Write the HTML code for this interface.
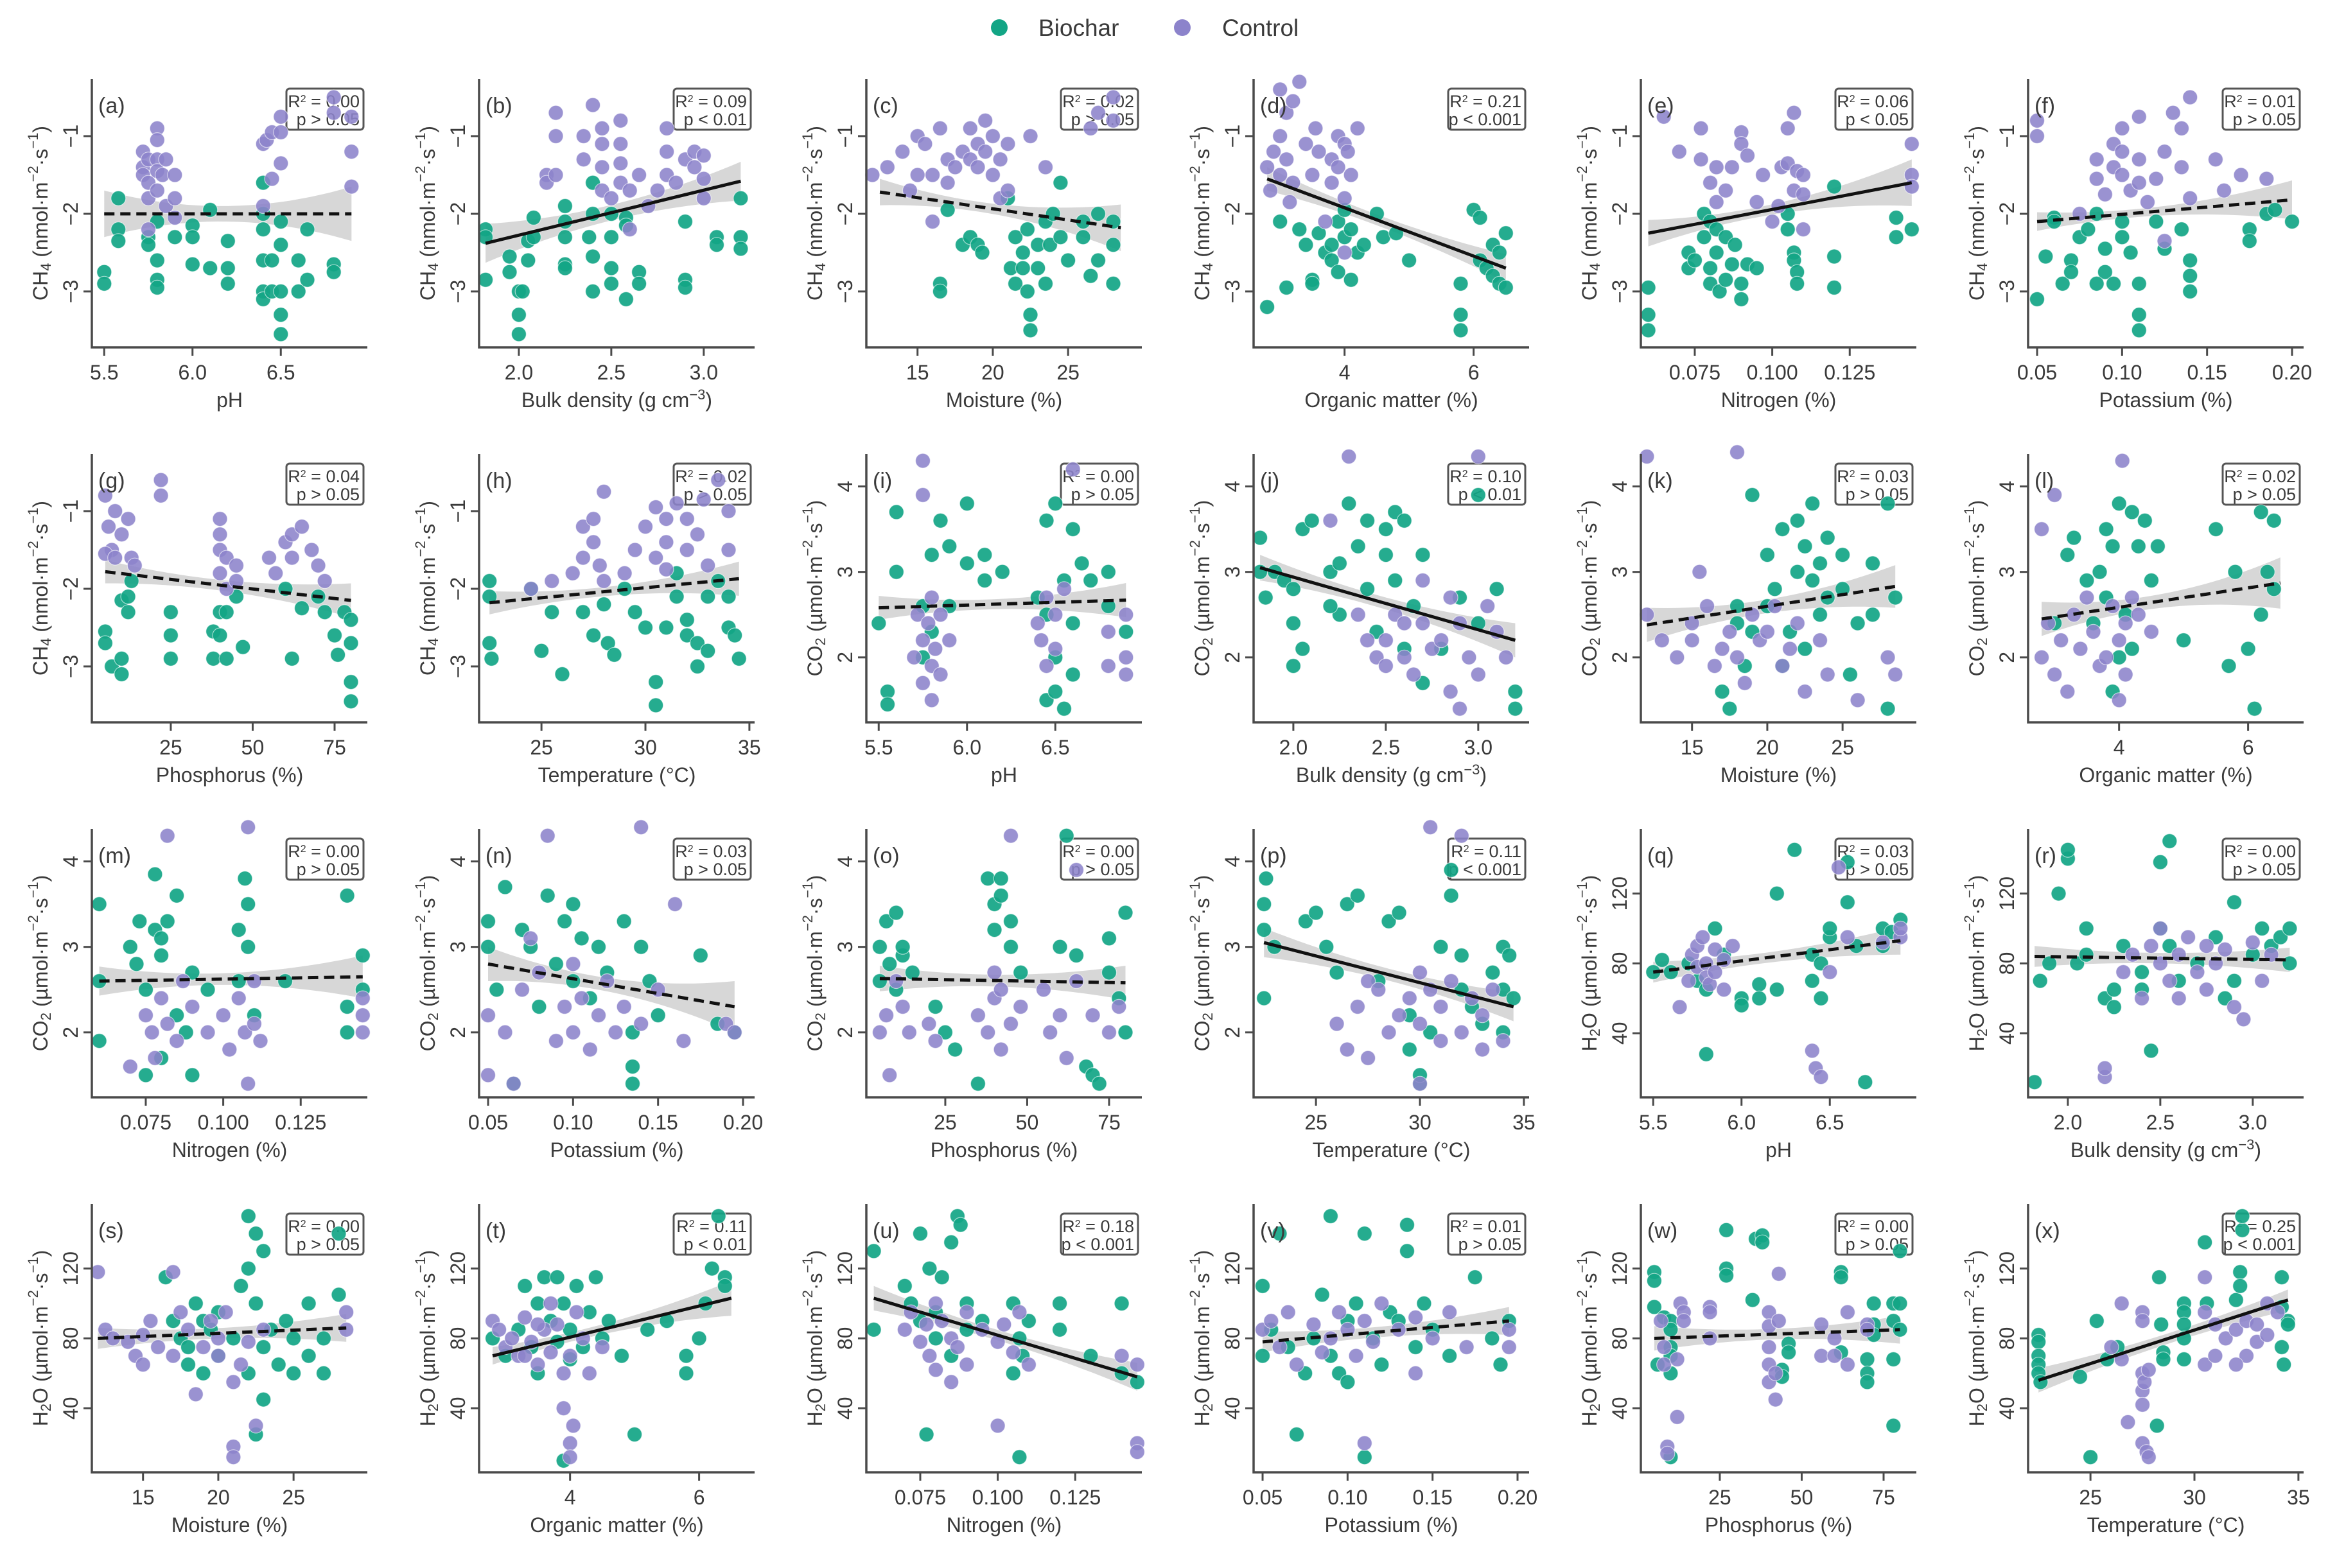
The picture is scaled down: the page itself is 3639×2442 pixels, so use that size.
<!DOCTYPE html>
<html><head><meta charset="utf-8"><style>
html,body{margin:0;padding:0;background:#fff}
svg{display:block}
text{font-family:"Liberation Sans Narrow","Liberation Sans",sans-serif;fill:#3a3a3a}
</style></head><body>
<svg id="fig" width="3639" height="2442" viewBox="0 0 3639 2442" xmlns="http://www.w3.org/2000/svg"></svg>
<script>
// ---------- data ----------
const bioA=[[5.5,-2.75],[5.5,-2.9],[5.58,-2.2],[5.58,-2.35],[5.58,-1.8],[5.75,-2.3],[5.75,-2.4],[5.8,-2.1],[5.8,-2.6],[5.8,-2.85],[5.8,-2.95],[5.9,-2.3],[6.0,-2.15],[6.0,-2.3],[6.0,-2.65],[6.1,-1.95],[6.1,-2.7],[6.2,-2.35],[6.2,-2.7],[6.2,-2.9],[6.4,-1.6],[6.4,-2.0],[6.4,-2.2],[6.4,-2.6],[6.4,-3.0],[6.4,-3.1],[6.45,-2.6],[6.45,-3.0],[6.5,-2.1],[6.5,-2.4],[6.5,-3.0],[6.5,-3.3],[6.5,-3.55],[6.6,-2.6],[6.6,-3.0],[6.65,-2.2],[6.65,-2.85],[6.8,-2.65],[6.8,-2.75]];
const ctlA=[[5.72,-1.2],[5.72,-1.4],[5.72,-1.5],[5.75,-1.3],[5.75,-1.6],[5.75,-1.8],[5.75,-2.2],[5.8,-0.9],[5.8,-1.05],[5.8,-1.3],[5.8,-1.45],[5.8,-1.7],[5.83,-1.5],[5.85,-1.3],[5.85,-1.9],[5.9,-1.5],[5.9,-1.8],[5.9,-2.05],[6.4,-1.1],[6.42,-1.05],[6.45,-0.95],[6.5,-0.75],[6.5,-0.95],[6.45,-1.55],[6.5,-1.35],[6.4,-1.9],[6.8,-0.5],[6.8,-0.7],[6.9,-1.2],[6.9,-1.65],[6.9,-0.75]];
const fitA=[[5.5,-2.0],[6.9,-2.0]]; const bandA=[0.3,0.1,0.35];

const bioB=[[1.82,-2.2],[1.82,-2.3],[1.82,-2.85],[1.95,-2.55],[1.95,-2.75],[2.0,-3.0],[2.0,-3.3],[2.0,-3.55],[2.02,-3.0],[2.05,-2.35],[2.05,-2.6],[2.08,-2.05],[2.08,-2.3],[2.25,-1.9],[2.25,-2.1],[2.25,-2.3],[2.25,-2.65],[2.25,-2.7],[2.38,-2.3],[2.4,-1.6],[2.4,-2.0],[2.4,-2.55],[2.4,-3.0],[2.5,-2.0],[2.5,-2.3],[2.5,-2.7],[2.5,-2.9],[2.58,-2.05],[2.58,-2.15],[2.58,-3.1],[2.65,-2.75],[2.65,-2.9],[2.9,-2.1],[2.9,-2.85],[2.9,-2.95],[3.07,-2.3],[3.07,-2.4],[3.2,-1.8],[3.2,-2.3],[3.2,-2.45]];
const ctlB=[[2.15,-1.5],[2.15,-1.6],[2.2,-1.5],[2.2,-1.0],[2.2,-0.7],[2.35,-1.0],[2.35,-1.3],[2.4,-0.6],[2.45,-0.9],[2.45,-1.1],[2.45,-1.4],[2.45,-1.7],[2.5,-1.8],[2.55,-0.8],[2.55,-1.1],[2.55,-1.35],[2.55,-1.6],[2.6,-1.7],[2.6,-2.2],[2.65,-1.5],[2.7,-1.9],[2.75,-1.7],[2.8,-1.2],[2.8,-1.5],[2.8,-0.9],[2.85,-1.6],[2.9,-1.3],[2.95,-1.2],[2.95,-1.4],[3.0,-1.25],[3.0,-1.55],[3.0,-1.8]];
const fitB=[[1.82,-2.38],[3.2,-1.58]]; const bandB=[0.25,0.1,0.25];

const bioC=[[17,-1.95],[18,-2.4],[18.5,-2.3],[19,-2.4],[19.3,-2.5],[21,-1.8],[21.2,-2.7],[21.5,-2.3],[21.5,-2.9],[22,-2.5],[22,-2.7],[22.3,-2.2],[22.3,-3.0],[22.5,-3.3],[22.5,-3.5],[23,-2.4],[23,-2.7],[23.5,-2.1],[23.5,-2.9],[23.8,-2.4],[24,-2.0],[24.5,-1.6],[24.5,-2.3],[25,-2.6],[26,-2.1],[26,-2.3],[26.5,-2.8],[27,-2.0],[27,-2.6],[28,-2.1],[28,-2.4],[28,-2.9],[16.5,-2.9],[16.5,-3.0]];
const ctlC=[[12,-1.5],[13,-1.4],[14,-1.2],[14.5,-1.7],[15,-1.0],[15,-1.5],[15.5,-1.1],[16,-1.5],[16.5,-0.9],[17,-1.3],[17,-1.6],[17.5,-1.4],[18,-1.2],[18.5,-0.9],[18.5,-1.3],[19,-1.1],[19,-1.4],[19.5,-0.8],[19.5,-1.2],[20,-1.0],[20,-1.5],[20.5,-1.3],[20.5,-1.8],[21,-1.1],[21,-1.7],[22.5,-1.0],[23.5,-1.4],[26.5,-0.9],[27,-0.7],[28,-0.5],[28,-0.8],[16,-2.1]];
const fitC=[[12.5,-1.72],[28.5,-2.18]]; const bandC=[0.17,0.07,0.3];

const bioD=[[2.8,-3.2],[3.0,-2.1],[3.1,-2.95],[3.3,-2.2],[3.4,-2.4],[3.5,-2.85],[3.5,-2.9],[3.6,-2.25],[3.7,-2.5],[3.8,-2.4],[3.8,-2.6],[3.9,-2.1],[3.9,-2.75],[4.0,-1.95],[4.0,-2.3],[4.1,-2.2],[4.1,-2.85],[4.2,-2.5],[4.3,-2.4],[4.5,-2.0],[4.6,-2.3],[4.8,-2.25],[5.0,-2.6],[5.8,-2.9],[5.8,-3.3],[5.8,-3.5],[6.0,-1.95],[6.1,-2.05],[6.1,-2.6],[6.2,-2.7],[6.3,-2.4],[6.3,-2.8],[6.4,-2.5],[6.4,-2.9],[6.5,-2.25],[6.5,-2.95]];
const ctlD=[[2.8,-1.4],[2.85,-1.7],[2.9,-1.2],[3.0,-0.4],[3.0,-1.0],[3.0,-1.5],[3.1,-0.7],[3.1,-1.3],[3.15,-1.85],[3.2,-0.55],[3.2,-1.6],[3.3,-0.3],[3.4,-1.1],[3.5,-1.5],[3.55,-0.9],[3.6,-1.2],[3.8,-1.3],[3.8,-1.6],[3.9,-1.0],[3.9,-1.4],[4.0,-1.1],[4.0,-1.8],[4.05,-1.2],[4.1,-1.5],[3.7,-2.1],[4.0,-2.5],[4.2,-0.9]];
const fitD=[[2.8,-1.55],[6.5,-2.7]]; const bandD=[0.15,0.07,0.18];

const bioE=[[0.06,-2.95],[0.06,-3.3],[0.06,-3.5],[0.073,-2.5],[0.073,-2.7],[0.075,-2.6],[0.078,-2.0],[0.078,-2.3],[0.08,-2.1],[0.08,-2.7],[0.08,-2.9],[0.082,-2.2],[0.082,-2.5],[0.083,-3.0],[0.085,-2.3],[0.085,-2.85],[0.087,-2.65],[0.088,-2.4],[0.09,-2.9],[0.09,-3.1],[0.092,-2.65],[0.095,-2.7],[0.105,-2.0],[0.105,-2.2],[0.107,-2.5],[0.107,-2.6],[0.108,-2.75],[0.108,-2.9],[0.12,-1.65],[0.12,-2.55],[0.12,-2.95],[0.14,-2.3],[0.14,-2.05],[0.145,-2.2]];
const ctlE=[[0.077,-0.9],[0.077,-1.3],[0.08,-1.6],[0.082,-1.4],[0.082,-1.85],[0.085,-1.7],[0.087,-1.4],[0.09,-0.95],[0.09,-1.1],[0.092,-1.25],[0.095,-1.85],[0.097,-1.5],[0.1,-2.1],[0.102,-1.9],[0.103,-1.4],[0.105,-0.9],[0.105,-1.35],[0.107,-0.7],[0.107,-1.7],[0.108,-1.45],[0.11,-1.5],[0.11,-1.75],[0.11,-2.2],[0.145,-1.1],[0.145,-1.5],[0.145,-1.65],[0.065,-0.75],[0.07,-1.2]];
const fitE=[[0.06,-2.25],[0.145,-1.6]]; const bandE=[0.17,0.07,0.3];

const bioF=[[0.05,-3.1],[0.055,-2.55],[0.06,-2.05],[0.065,-2.9],[0.07,-2.6],[0.07,-2.75],[0.075,-2.3],[0.08,-2.2],[0.085,-2.0],[0.09,-2.45],[0.09,-2.75],[0.095,-2.9],[0.1,-2.1],[0.1,-2.3],[0.105,-2.5],[0.11,-2.9],[0.11,-3.3],[0.11,-3.5],[0.12,-2.1],[0.125,-2.45],[0.14,-2.6],[0.14,-2.8],[0.14,-3.0],[0.135,-2.2],[0.175,-2.2],[0.175,-2.35],[0.185,-2.0],[0.19,-1.95],[0.2,-2.1],[0.06,-2.1],[0.085,-2.9]];
const ctlF=[[0.05,-0.8],[0.05,-1.0],[0.075,-2.0],[0.085,-1.3],[0.085,-1.55],[0.09,-1.75],[0.095,-1.4],[0.095,-1.1],[0.1,-0.9],[0.1,-1.2],[0.1,-1.5],[0.105,-1.7],[0.11,-0.75],[0.11,-1.3],[0.11,-1.6],[0.115,-1.85],[0.12,-1.55],[0.125,-1.2],[0.13,-0.7],[0.135,-0.9],[0.135,-1.4],[0.14,-0.5],[0.14,-1.8],[0.155,-1.3],[0.16,-1.7],[0.17,-1.5],[0.185,-1.55],[0.125,-2.35]];
const fitF=[[0.05,-2.1],[0.2,-1.82]]; const bandF=[0.12,0.06,0.25];

const bioG=[[5,-2.55],[5,-2.7],[7,-3.0],[10,-2.15],[10,-2.9],[10,-3.1],[12,-2.1],[12,-2.3],[13,-1.9],[25,-2.3],[25,-2.6],[25,-2.9],[38,-2.55],[38,-2.9],[40,-2.3],[40,-2.6],[42,-2.3],[42,-2.9],[45,-2.1],[47,-2.75],[60,-2.0],[62,-2.9],[65,-2.25],[70,-2.1],[72,-2.3],[76,-2.85],[78,-2.3],[80,-2.4],[80,-2.7],[80,-3.2],[80,-3.45],[75,-2.6]];
const ctlG=[[5,-0.8],[6,-1.2],[7,-1.5],[8,-1.0],[10,-1.3],[12,-1.1],[13,-1.6],[14,-1.7],[22,-0.6],[22,-0.8],[40,-1.1],[40,-1.3],[40,-1.5],[40,-1.8],[42,-1.6],[42,-2.0],[45,-1.7],[45,-1.9],[55,-1.6],[57,-1.8],[60,-1.4],[62,-1.6],[62,-1.3],[65,-1.2],[68,-1.5],[70,-1.7],[72,-1.9],[5,-1.55],[8,-1.6]];
const fitG=[[5,-1.78],[80,-2.15]]; const bandG=[0.15,0.07,0.22];

const bioH=[[22.5,-1.9],[22.5,-2.1],[22.5,-2.7],[22.6,-2.9],[24.5,-2.0],[25,-2.8],[25.5,-2.3],[26,-3.1],[27,-2.3],[27.5,-2.6],[28,-2.2],[28.2,-2.7],[28.5,-2.85],[29,-2.0],[29.5,-2.3],[30,-2.5],[30.5,-3.2],[30.5,-3.5],[31,-2.5],[31.5,-1.8],[31.5,-2.1],[32,-2.4],[32,-2.6],[32.5,-2.7],[32.5,-3.0],[33,-2.1],[33,-2.8],[33.5,-1.9],[34,-2.1],[34,-2.5],[34.3,-2.6],[34.5,-2.9]];
const ctlH=[[24.5,-2.0],[25.5,-1.9],[26.5,-1.8],[27,-1.6],[27,-1.2],[27.5,-1.1],[27.5,-1.4],[27.8,-1.7],[28,-0.75],[28,-1.9],[29,-1.8],[29.5,-1.5],[30,-1.2],[30.5,-0.95],[30.5,-1.6],[31,-1.1],[31,-1.4],[31,-1.75],[31.5,-0.9],[32,-1.1],[32,-1.5],[32.5,-1.3],[32.8,-0.85],[33,-1.7],[33.5,-0.6],[34,-1.0],[34,-1.5]];
const fitH=[[22.5,-2.18],[34.5,-1.87]]; const bandH=[0.15,0.06,0.22];

const bioI=[[5.5,2.4],[5.55,1.6],[5.55,1.45],[5.6,3.0],[5.6,3.7],[5.75,2.0],[5.75,2.6],[5.8,3.2],[5.8,2.3],[5.85,3.6],[5.9,2.6],[5.9,3.3],[6.0,3.8],[6.0,3.1],[6.1,2.9],[6.1,3.2],[6.2,3.0],[6.4,2.7],[6.45,3.6],[6.45,2.5],[6.45,1.5],[6.5,2.0],[6.5,1.6],[6.5,3.8],[6.55,2.9],[6.6,3.5],[6.6,2.4],[6.6,1.8],[6.65,3.1],[6.7,2.9],[6.8,3.0],[6.8,2.6],[6.9,2.3],[6.55,1.4]];
const ctlI=[[5.7,2.0],[5.72,2.5],[5.75,2.2],[5.75,1.7],[5.75,4.3],[5.75,3.9],[5.78,2.4],[5.8,1.9],[5.8,2.7],[5.8,1.5],[5.82,2.1],[5.85,2.5],[5.85,1.8],[5.9,2.2],[6.4,2.4],[6.42,2.2],[6.45,2.7],[6.45,1.9],[6.5,2.5],[6.5,2.1],[6.55,2.8],[6.6,4.2],[6.8,1.9],[6.8,2.3],[6.9,2.0],[6.9,1.8],[6.9,2.5]];
const fitI=[[5.5,2.58],[6.9,2.67]]; const bandI=[0.14,0.06,0.2];

const bioJ=[[1.82,3.0],[1.82,3.4],[1.85,2.7],[1.9,3.0],[1.95,2.9],[2.0,2.8],[2.0,2.4],[2.0,1.9],[2.05,2.1],[2.05,3.5],[2.1,3.6],[2.2,3.0],[2.25,3.1],[2.25,2.5],[2.3,3.8],[2.35,3.3],[2.4,3.6],[2.4,2.8],[2.45,2.3],[2.5,3.5],[2.5,3.2],[2.55,3.7],[2.55,2.9],[2.6,3.6],[2.6,2.1],[2.65,2.6],[2.7,1.7],[2.8,2.1],[2.9,2.7],[3.0,3.9],[3.0,2.4],[3.1,2.8],[3.2,1.6],[3.2,1.4],[2.7,3.2],[2.2,2.6]];
const ctlJ=[[2.2,3.6],[2.3,4.35],[2.4,2.2],[2.45,2.0],[2.5,1.9],[2.5,2.2],[2.55,2.5],[2.6,2.0],[2.6,2.4],[2.65,1.8],[2.7,2.4],[2.75,2.1],[2.8,2.2],[2.85,1.6],[2.85,2.7],[2.9,2.4],[2.95,2.0],[3.0,1.8],[3.0,4.35],[3.05,2.6],[3.1,2.3],[3.15,2.0],[2.35,2.5],[2.7,2.9],[2.9,1.4]];
const fitJ=[[1.82,3.05],[3.2,2.2]]; const bandJ=[0.15,0.07,0.2];

const bioK=[[17,1.6],[17.5,1.4],[18,2.4],[18,2.6],[18.5,1.9],[19,2.3],[19,3.9],[20,3.2],[20,2.6],[20.5,2.8],[21,3.5],[21,1.9],[21.5,2.3],[22,3.0],[22,3.6],[22.5,3.3],[22.5,2.1],[23,2.9],[23,3.8],[23.5,3.1],[23.5,2.5],[24,3.4],[24,2.7],[25,3.2],[25,2.8],[25.5,1.8],[26,2.4],[27,3.1],[27,2.5],[28,1.4],[28,3.8],[28.5,2.7]];
const ctlK=[[12,2.5],[12,4.35],[13,2.2],[14,2.0],[15,2.4],[15,2.2],[16,2.6],[16.5,1.9],[17,2.1],[17.5,2.3],[18,4.4],[18,2.0],[18.5,1.7],[19,2.5],[19.5,2.2],[20,2.3],[20.5,2.6],[21,1.9],[21.5,2.1],[22,2.4],[22.5,1.6],[23.5,2.2],[24,1.8],[26,1.5],[28,2.0],[28.5,1.8],[15.5,3.0]];
const fitK=[[12,2.38],[28.5,2.83]]; const bandK=[0.2,0.08,0.25];

const bioL=[[3.0,2.4],[3.2,3.2],[3.3,3.4],[3.5,2.9],[3.6,2.4],[3.7,3.0],[3.8,3.5],[3.8,2.7],[3.9,3.3],[3.9,1.6],[4.0,2.0],[4.0,3.8],[4.1,2.5],[4.2,3.7],[4.2,2.1],[4.3,3.3],[4.4,3.6],[4.5,2.9],[4.6,3.3],[5.0,2.2],[5.5,3.5],[5.7,1.9],[5.8,3.0],[6.0,2.1],[6.1,1.4],[6.2,3.7],[6.3,3.0],[6.4,3.6],[6.4,2.8],[6.2,2.5]];
const ctlL=[[2.8,3.5],[2.8,2.0],[2.9,2.4],[3.0,1.8],[3.1,2.2],[3.2,1.6],[3.3,2.5],[3.4,2.1],[3.5,2.7],[3.6,2.3],[3.7,1.9],[3.8,2.0],[3.9,2.6],[4.0,2.2],[4.0,1.5],[4.05,4.3],[4.1,2.4],[4.1,1.8],[4.2,2.7],[4.3,2.5],[3.0,3.9],[4.5,2.3]];
const fitL=[[2.8,2.45],[6.5,2.87]]; const bandL=[0.2,0.08,0.3];

const bioM=[[0.06,3.5],[0.06,2.6],[0.06,1.9],[0.07,3.0],[0.072,2.8],[0.073,3.3],[0.075,2.5],[0.075,1.5],[0.078,3.2],[0.078,3.85],[0.08,2.9],[0.08,3.1],[0.08,1.7],[0.082,3.3],[0.085,2.2],[0.085,3.6],[0.088,2.0],[0.09,2.7],[0.09,1.5],[0.095,2.5],[0.105,3.2],[0.105,2.6],[0.107,3.8],[0.108,3.5],[0.108,3.0],[0.11,2.2],[0.12,2.6],[0.14,3.6],[0.14,2.0],[0.14,2.3],[0.145,2.5],[0.145,2.9]];
const ctlM=[[0.07,1.6],[0.075,2.2],[0.077,2.0],[0.078,1.7],[0.08,2.4],[0.082,4.3],[0.082,2.1],[0.085,1.9],[0.087,2.6],[0.09,2.3],[0.095,2.0],[0.1,2.2],[0.102,1.8],[0.105,2.4],[0.107,2.0],[0.108,4.4],[0.108,1.4],[0.11,2.1],[0.11,2.6],[0.112,1.9],[0.145,2.2],[0.145,2.0],[0.145,2.4]];
const fitM=[[0.06,2.6],[0.145,2.65]]; const bandM=[0.17,0.07,0.25];

const bioN=[[0.05,3.3],[0.05,3.0],[0.055,2.5],[0.06,3.7],[0.065,1.4],[0.07,3.2],[0.075,3.0],[0.08,2.3],[0.085,3.6],[0.09,2.8],[0.095,3.3],[0.1,3.5],[0.1,2.6],[0.105,3.1],[0.11,2.4],[0.115,3.0],[0.12,2.7],[0.13,3.3],[0.135,2.0],[0.135,1.6],[0.135,1.4],[0.14,3.0],[0.145,2.6],[0.15,2.2],[0.175,2.9],[0.185,2.1],[0.195,2.0]];
const ctlN=[[0.05,1.5],[0.05,2.2],[0.06,2.0],[0.065,1.4],[0.07,2.5],[0.08,2.7],[0.085,4.3],[0.09,1.9],[0.095,2.3],[0.1,2.8],[0.1,2.0],[0.105,2.4],[0.11,1.8],[0.115,2.2],[0.12,2.6],[0.125,2.0],[0.13,2.3],[0.14,4.4],[0.14,2.1],[0.15,2.5],[0.16,3.5],[0.165,1.9],[0.19,2.1],[0.195,2.0],[0.075,3.1]];
const fitN=[[0.05,2.8],[0.195,2.3]]; const bandN=[0.2,0.08,0.3];

const bioO=[[5,3.0],[5,2.6],[7,3.3],[8,2.8],[10,3.4],[10,2.5],[12,2.9],[12,3.0],[15,2.7],[22,2.3],[25,2.0],[28,1.8],[35,1.4],[38,3.8],[40,3.5],[40,3.2],[42,3.6],[42,3.8],[45,3.3],[45,3.0],[48,2.7],[60,3.0],[62,4.3],[65,2.9],[68,1.6],[70,1.5],[72,1.4],[75,3.1],[78,2.4],[80,3.4],[80,2.0],[75,2.7]];
const ctlO=[[5,2.0],[7,2.2],[8,1.5],[10,2.6],[12,2.3],[14,2.0],[20,2.1],[22,1.9],[35,2.2],[38,2.0],[40,2.4],[40,2.7],[42,1.8],[42,2.5],[45,2.1],[45,4.3],[48,2.3],[55,2.5],[57,2.0],[60,2.2],[62,1.7],[65,2.6],[65,3.9],[70,2.2],[75,2.0],[78,2.3]];
const fitO=[[5,2.63],[80,2.58]]; const bandO=[0.15,0.07,0.2];

const bioP=[[22.5,2.4],[22.5,3.2],[22.5,3.5],[22.6,3.8],[23,3.0],[24.5,3.3],[25,3.4],[25.5,3.0],[26,2.7],[26.5,3.5],[27,3.6],[28,2.6],[28.5,3.3],[29,3.4],[29.5,2.2],[29.5,1.8],[30,1.4],[30,1.5],[30.5,2.0],[31,3.0],[31.5,3.6],[31.5,3.9],[32,2.5],[32,2.9],[32.5,2.3],[33,2.1],[33.5,2.7],[34,2.5],[34,3.0],[34.3,2.9],[34.5,2.4],[34,2.0]];
const ctlP=[[26,2.1],[26.5,1.8],[27,2.3],[27.5,1.7],[27.5,2.6],[28,2.5],[28.5,2.0],[29,2.2],[29.5,2.4],[30,2.7],[30,2.1],[30.5,2.5],[30.5,4.4],[31,1.9],[31,2.3],[31.5,2.6],[32,2.0],[32,4.3],[32.5,2.4],[33,1.8],[33,2.2],[33.5,2.5],[34,1.9],[30,1.4]];
const fitP=[[22.5,3.05],[34.5,2.3]]; const bandP=[0.17,0.07,0.17];

const bioQ=[[5.5,75],[5.55,82],[5.6,75],[5.7,80],[5.75,70],[5.8,65],[5.8,28],[5.85,100],[5.9,85],[6.0,60],[6.0,56],[6.1,68],[6.1,60],[6.2,120],[6.2,65],[6.3,145],[6.4,70],[6.4,85],[6.45,80],[6.5,95],[6.5,100],[6.6,115],[6.6,138],[6.65,90],[6.7,12],[6.8,100],[6.85,98],[6.8,90],[6.9,105],[6.45,60]];
const ctlQ=[[5.7,70],[5.72,85],[5.75,78],[5.75,90],[5.78,95],[5.8,80],[5.8,72],[5.82,68],[5.85,88],[5.85,75],[5.9,82],[5.9,65],[5.95,90],[6.4,30],[6.42,20],[6.45,15],[6.5,75],[6.55,135],[6.6,95],[6.8,92],[6.9,95],[6.9,100],[5.65,55]];
const fitQ=[[5.5,75],[6.9,93]]; const bandQ=[6,3,8];

const bioR=[[1.82,12],[1.85,70],[1.9,80],[1.95,120],[2.0,140],[2.0,145],[2.05,80],[2.1,100],[2.1,85],[2.2,60],[2.25,55],[2.3,90],[2.4,75],[2.4,65],[2.45,30],[2.5,138],[2.5,100],[2.55,150],[2.55,90],[2.6,70],[2.7,80],[2.8,95],[2.85,60],[2.9,70],[2.9,115],[3.0,85],[3.05,100],[3.1,90],[3.15,95],[3.2,80],[3.2,100],[2.25,65]];
const ctlR=[[2.2,15],[2.2,20],[2.3,75],[2.35,85],[2.4,60],[2.45,90],[2.5,80],[2.55,70],[2.6,85],[2.65,95],[2.7,75],[2.75,65],[2.8,80],[2.85,88],[2.9,55],[2.95,48],[3.0,92],[3.05,70],[3.1,85],[2.5,100],[2.6,60],[2.75,90]];
const fitR=[[1.82,84],[3.2,82]]; const bandR=[6,3,7];

const bioS=[[16.5,115],[17,90],[17.5,80],[18,75],[18,65],[18.5,100],[19,90],[19,60],[19.5,85],[20,70],[20,95],[21,80],[21.5,110],[22,150],[22,120],[22,60],[22.5,100],[22.5,140],[22.5,25],[23,130],[23,75],[23,45],[23.5,85],[24,65],[24.5,90],[25,60],[25,80],[26,100],[26,70],[27,80],[27,60],[28,105],[28,140]];
const ctlS=[[12,118],[12.5,85],[13,80],[14,78],[14.5,70],[15,82],[15,65],[15.5,90],[16,75],[17,70],[17.5,95],[18,85],[18.5,48],[19,75],[19.5,90],[20,80],[20,70],[20.5,95],[21,55],[21,18],[21,12],[21.5,65],[22,78],[22.5,30],[23,85],[28.5,95],[28.5,85],[17,118]];
const fitS=[[12,80],[28.5,86]]; const bandS=[6,3,8];

const bioT=[[2.8,80],[3.0,70],[3.2,85],[3.3,110],[3.4,75],[3.5,100],[3.5,60],[3.6,115],[3.7,90],[3.8,115],[3.8,78],[3.9,100],[4.0,68],[4.0,85],[4.1,110],[4.2,75],[4.3,95],[4.4,115],[4.5,80],[4.6,90],[4.8,70],[5.0,25],[5.2,85],[5.8,60],[5.8,70],[6.0,80],[6.1,100],[6.2,120],[6.3,150],[6.4,115],[6.4,110],[5.5,90],[3.9,10]];
const ctlT=[[2.8,90],[2.9,85],[3.0,75],[3.1,80],[3.2,70],[3.3,92],[3.4,78],[3.5,65],[3.6,85],[3.7,72],[3.8,88],[3.9,60],[3.9,40],[4.0,20],[4.0,12],[4.05,30],[4.1,95],[4.2,80],[4.0,70],[3.7,100],[3.5,88],[3.3,70],[4.3,60],[4.5,75]];
const fitT=[[2.8,70],[6.5,103]]; const bandT=[5,3,10];

const bioU=[[0.06,130],[0.06,85],[0.07,110],[0.072,100],[0.075,140],[0.075,90],[0.078,120],[0.08,95],[0.08,80],[0.082,115],[0.085,135],[0.085,70],[0.087,150],[0.088,145],[0.09,100],[0.09,85],[0.095,90],[0.105,100],[0.105,60],[0.107,80],[0.107,12],[0.108,70],[0.11,90],[0.12,100],[0.12,85],[0.13,70],[0.14,100],[0.14,60],[0.145,55],[0.077,25]];
const ctlU=[[0.07,85],[0.072,95],[0.075,78],[0.077,88],[0.078,70],[0.08,62],[0.08,100],[0.082,90],[0.085,80],[0.085,55],[0.087,75],[0.09,95],[0.09,65],[0.095,85],[0.1,30],[0.1,78],[0.102,88],[0.105,72],[0.107,95],[0.11,65],[0.145,20],[0.145,15],[0.145,65],[0.14,70]];
const fitU=[[0.06,103],[0.145,58]]; const bandU=[7,3,8];

const bioV=[[0.05,70],[0.05,110],[0.055,85],[0.06,140],[0.065,75],[0.07,25],[0.075,60],[0.08,80],[0.085,105],[0.09,70],[0.09,150],[0.095,60],[0.1,55],[0.1,90],[0.105,100],[0.11,140],[0.11,12],[0.115,80],[0.12,65],[0.125,95],[0.13,90],[0.135,145],[0.135,130],[0.14,75],[0.145,100],[0.15,85],[0.16,70],[0.175,115],[0.185,80],[0.19,65],[0.195,90]];
const ctlV=[[0.05,85],[0.055,90],[0.06,75],[0.065,95],[0.07,65],[0.08,88],[0.085,72],[0.09,80],[0.095,95],[0.1,85],[0.105,70],[0.11,20],[0.11,90],[0.115,78],[0.12,100],[0.13,85],[0.14,60],[0.14,92],[0.15,80],[0.16,95],[0.17,75],[0.195,85],[0.195,75]];
const fitV=[[0.05,78],[0.195,90]]; const bandV=[6,3,8];

const bioW=[[5,118],[5,113],[5,98],[6,65],[8,92],[10,90],[10,85],[10,75],[10,70],[10,60],[10,12],[27,142],[27,120],[27,116],[35,102],[36,137],[38,139],[38,135],[46,77],[46,72],[44,62],[44,58],[62,118],[62,115],[62,72],[70,68],[70,60],[70,55],[72,100],[72,88],[72,82],[78,100],[78,90],[78,68],[80,85],[80,100],[80,130],[78,30]];
const ctlW=[[7,90],[8,75],[8,65],[9,18],[9,14],[12,35],[12,68],[13,100],[14,95],[14,90],[22,98],[22,95],[22,80],[40,95],[40,87],[40,75],[40,65],[40,55],[42,60],[42,45],[43,117],[43,90],[56,88],[56,70],[60,80],[60,70],[64,95],[64,65],[70,88],[70,85]];
const fitW=[[5,80],[80,85]]; const bandW=[7,3,8];

const bioX=[[22.5,82],[22.5,78],[22.5,70],[22.5,65],[22.5,60],[22.6,55],[25,12],[25.3,90],[26.3,75],[25.8,68],[24.5,58],[28.2,30],[28.3,115],[28.4,88],[28.5,72],[28.5,68],[29.5,100],[29.5,95],[29.5,88],[29.5,80],[29.5,68],[30.5,135],[30.6,100],[32,102],[32.2,118],[32.2,110],[32.3,142],[32.3,150],[34.2,115],[34.2,98],[34.2,75],[34.3,65],[34.5,90],[34.5,88]];
const ctlX=[[26.5,100],[26,75],[26.5,68],[27.5,95],[27.5,90],[27.5,60],[27.5,50],[27.5,42],[27.5,20],[27.7,15],[27.8,12],[27.6,55],[27.8,62],[26.8,32],[30.5,115],[30.5,95],[30.5,65],[31,88],[31,70],[31.5,80],[32,85],[32.5,90],[32.5,70],[33,88],[33,78],[33.5,100],[33.5,82],[34,95],[32,65]];
const fitX=[[22.5,56],[34.5,102]]; const bandX=[7,3,6];

const r2Labels=["0.00","0.09","0.02","0.21","0.06","0.01","0.04","0.02","0.00","0.10","0.03","0.02","0.00","0.03","0.00","0.11","0.03","0.00","0.00","0.11","0.18","0.01","0.00","0.25"];
const pLabels=["p > 0.05","p < 0.01","p > 0.05","p < 0.001","p < 0.05","p > 0.05","p > 0.05","p > 0.05","p > 0.05","p < 0.01","p > 0.05","p > 0.05","p > 0.05","p > 0.05","p > 0.05","p < 0.001","p > 0.05","p > 0.05","p > 0.05","p < 0.01","p < 0.001","p > 0.05","p > 0.05","p < 0.001"];

// x variables: domain, ticks
const xVars={
 ph:{dom:[5.43,6.99],ticks:[5.5,6.0,6.5],lab:["5.5","6.0","6.5"],title:'pH'},
 bd:{dom:[1.785,3.275],ticks:[2.0,2.5,3.0],lab:["2.0","2.5","3.0"],title:'Bulk density (g cm<tspan dy="-12" font-size="22">−3</tspan><tspan dy="12">)</tspan>'},
 mo:{dom:[11.6,29.9],ticks:[15,20,25],lab:["15","20","25"],title:'Moisture (%)'},
 om:{dom:[2.59,6.86],ticks:[4,6],lab:["4","6"],title:'Organic matter (%)'},
 n:{dom:[0.0576,0.1465],ticks:[0.075,0.1,0.125],lab:["0.075","0.100","0.125"],title:'Nitrogen (%)'},
 k:{dom:[0.0447,0.2068],ticks:[0.05,0.1,0.15,0.2],lab:["0.05","0.10","0.15","0.20"],title:'Potassium (%)'},
 p:{dom:[0.9,85],ticks:[25,50,75],lab:["25","50","75"],title:'Phosphorus (%)'},
 t:{dom:[22.0,35.25],ticks:[25,30,35],lab:["25","30","35"],title:'Temperature (°C)'}
};
const yVars={
 ch4:{dom:[-3.72,-0.264],ticks:[-3,-2,-1],lab:["−3","−2","−1"],title:'CH<tspan dy="8" font-size="22">4</tspan><tspan dy="-8"> (nmol·m</tspan><tspan dy="-12" font-size="22">−2</tspan><tspan dy="12">·s</tspan><tspan dy="-12" font-size="22">−1</tspan><tspan dy="12">)</tspan>'},
 co2:{dom:[1.24,4.38],ticks:[2,3,4],lab:["2","3","4"],title:'CO<tspan dy="8" font-size="22">2</tspan><tspan dy="-8"> (µmol·m</tspan><tspan dy="-12" font-size="22">−2</tspan><tspan dy="12">·s</tspan><tspan dy="-12" font-size="22">−1</tspan><tspan dy="12">)</tspan>'},
 h2o:{dom:[3.3,157],ticks:[40,80,120],lab:["40","80","120"],title:'H<tspan dy="8" font-size="22">2</tspan><tspan dy="-8">O (µmol·m</tspan><tspan dy="-12" font-size="22">−2</tspan><tspan dy="12">·s</tspan><tspan dy="-12" font-size="22">−1</tspan><tspan dy="12">)</tspan>'}
};
const panelX=["ph","bd","mo","om","n","k","p","t","ph","bd","mo","om","n","k","p","t","ph","bd","mo","om","n","k","p","t"];
const panelY=["ch4","ch4","ch4","ch4","ch4","ch4","ch4","ch4","co2","co2","co2","co2","co2","co2","co2","co2","h2o","h2o","h2o","h2o","h2o","h2o","h2o","h2o"];
const bioAll=[bioA,bioB,bioC,bioD,bioE,bioF,bioG,bioH,bioI,bioJ,bioK,bioL,bioM,bioN,bioO,bioP,bioQ,bioR,bioS,bioT,bioU,bioV,bioW,bioX];
const ctlAll=[ctlA,ctlB,ctlC,ctlD,ctlE,ctlF,ctlG,ctlH,ctlI,ctlJ,ctlK,ctlL,ctlM,ctlN,ctlO,ctlP,ctlQ,ctlR,ctlS,ctlT,ctlU,ctlV,ctlW,ctlX];
const fitAll=[fitA,fitB,fitC,fitD,fitE,fitF,fitG,fitH,fitI,fitJ,fitK,fitL,fitM,fitN,fitO,fitP,fitQ,fitR,fitS,fitT,fitU,fitV,fitW,fitX];
const bandAll=[bandA,bandB,bandC,bandD,bandE,bandF,bandG,bandH,bandI,bandJ,bandK,bandL,bandM,bandN,bandO,bandP,bandQ,bandR,bandS,bandT,bandU,bandV,bandW,bandX];
const letters="abcdefghijklmnopqrstuvwx";

// ---------- drawing ----------
const NS="http://www.w3.org/2000/svg";
const svg=document.getElementById('fig');
function mk(tag,attrs,parent){const e=document.createElementNS(NS,tag);for(const k in attrs)e.setAttribute(k,attrs[k]);(parent||svg).appendChild(e);return e;}
const GREEN="#12a585", PURPLE="#8c83cb", AX="#4a4a4a";

// legend
const lg=mk('g',{});


let e;
e=mk('circle',{cx:1556,cy:43,r:13,fill:GREEN},lg);


e=mk('text',{x:1617,y:56,'font-size':37},lg); e.textContent='Biochar';


e=mk('circle',{cx:1841,cy:43,r:13,fill:PURPLE},lg);


e=mk('text',{x:1903,y:56,'font-size':37},lg); e.textContent='Control';



const W=429,H=418;
for(let i=0;i<24;i++){
  const col=i%6,row=Math.floor(i/6);
  const L=143+col*603,T=123+row*584;
  const xv=xVars[panelX[i]],yv=yVars[panelY[i]];
  const sx=v=>L+(v-xv.dom[0])/(xv.dom[1]-xv.dom[0])*W;
  const sy=v=>T+H-(v-yv.dom[0])/(yv.dom[1]-yv.dom[0])*H;
  const g=mk('g',{});
  
  

  // band
  const f=fitAll[i],b=bandAll[i];
  const x0=f[0][0],x1=f[1][0],y0=f[0][1],y1=f[1][1];
  const up=[],dn=[];
  for(let s=0;s<=24;s++){
    const t=s/24, xx=x0+(x1-x0)*t, yy=y0+(y1-y0)*t;
    const hw=b[0]*(1-t)*(1-2*t)+b[1]*4*t*(1-t)+b[2]*t*(2*t-1);
    up.push(sx(xx).toFixed(1)+','+sy(yy+hw).toFixed(1));
    dn.unshift(sx(xx).toFixed(1)+','+sy(yy-hw).toFixed(1));
  }
  e=mk('polygon',{points:up.concat(dn).join(' '),fill:'#bdbdbd','fill-opacity':0.6},g);
  
  

  // stats box
  const bx=L+W-126,by=T+15;
  e=mk('rect',{x:bx,y:by,width:120,height:64,rx:5,fill:'#fff',stroke:'#555','stroke-width':3},g);
  
  
  e=mk('text',{x:L+W-12,y:by+29,'font-size':27,'text-anchor':'end'},g);
  e.innerHTML='R<tspan dy="-8" font-size="16">2</tspan><tspan dy="8"> = '+r2Labels[i]+'</tspan>';
  
  
  e=mk('text',{x:L+W-12,y:by+57,'font-size':27,'text-anchor':'end'},g);
  e.textContent=pLabels[i];
  
  

  // points
  for(const p of bioAll[i]){
    e=mk('circle',{cx:sx(p[0]).toFixed(1),cy:sy(p[1]).toFixed(1),r:11.5,fill:GREEN,'fill-opacity':0.92,stroke:'#fff','stroke-width':1.2,'stroke-opacity':0.6},g);
    
    
  }
  for(const p of ctlAll[i]){
    e=mk('circle',{cx:sx(p[0]).toFixed(1),cy:sy(p[1]).toFixed(1),r:11.5,fill:PURPLE,'fill-opacity':0.88,stroke:'#fff','stroke-width':1.2,'stroke-opacity':0.6},g);
    
    
  }

  // fit line
  const sig=pLabels[i].indexOf('<')>=0;
  const la={x1:sx(x0),y1:sy(y0),x2:sx(x1),y2:sy(y1),stroke:'#111','stroke-width':5};
  if(!sig) la['stroke-dasharray']='16,9';
  e=mk('line',la,g);
  
  

  // axes
  e=mk('path',{d:`M${L},${T} V${T+H} H${L+W}`,fill:'none',stroke:AX,'stroke-width':3.5},g);
  
  
  xv.ticks.forEach((v,k)=>{
    e=mk('line',{x1:sx(v),y1:T+H,x2:sx(v),y2:T+H+13,stroke:AX,'stroke-width':3},g);
    
    
    e=mk('text',{x:sx(v),y:T+H+50,'font-size':32,'text-anchor':'middle'},g);
    e.textContent=xv.lab[k];
    
    
  });
  yv.ticks.forEach((v,k)=>{
    e=mk('line',{x1:L-13,y1:sy(v),x2:L,y2:sy(v),stroke:AX,'stroke-width':3},g);
    
    
    e=mk('text',{x:L-33,y:sy(v),'font-size':32,'text-anchor':'middle','dominant-baseline':'central',transform:`rotate(-90 ${L-33} ${sy(v)})`},g);
    e.textContent=yv.lab[k];
    
    
  });
  e=mk('text',{x:L+W/2,y:T+H+93,'font-size':32,'text-anchor':'middle'},g);
  e.innerHTML=xv.title;
  
  
  e=mk('text',{x:L-80,y:T+H/2,'font-size':32,'text-anchor':'middle','dominant-baseline':'central',transform:`rotate(-90 ${L-80} ${T+H/2})`},g);
  e.innerHTML=yv.title;
  
  
  e=mk('text',{x:L+10,y:T+53,'font-size':34},g);
  e.textContent='('+letters[i]+')';
  
  
}
</script>
</body></html>
